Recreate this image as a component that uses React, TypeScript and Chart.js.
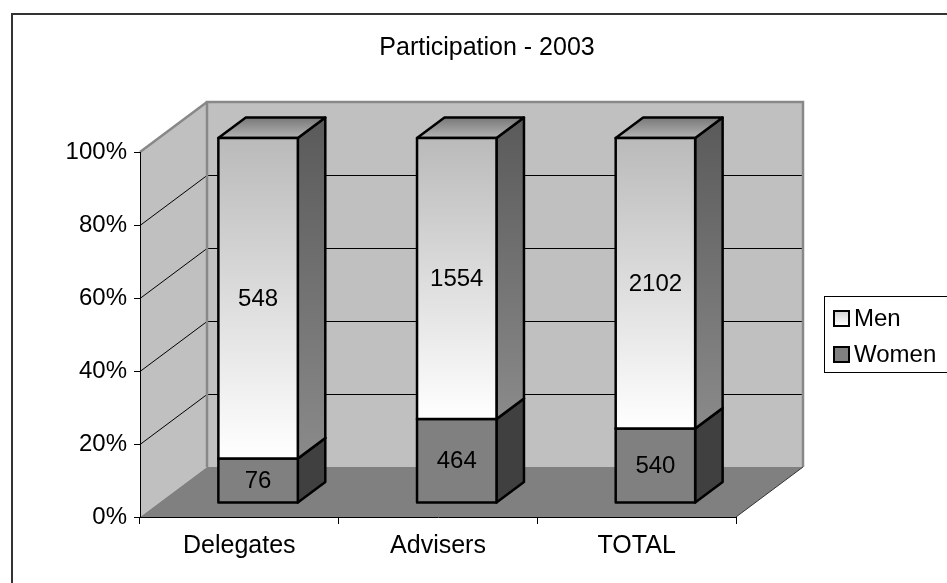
import React, { useEffect, useRef } from "react";
import { Chart, registerables } from "chart.js";

Chart.register(...registerables);

const title = "Participation - 2003";
const categories = ["Delegates", "Advisers", "TOTAL"];
const women = [76, 464, 540];
const men = [548, 1554, 2102];
const yTickStep = 20;

const FONT = "'Liberation Sans', Arial, sans-serif";

// 3D geometry (styles)
const DEPTH_X = 67;
const DEPTH_Y = -50;
const BAR_FRONT = 0.28;
const BAR_DEPTH = 0.41;

const womenPct = women.map((w, i) => (w / (w + men[i])) * 100);
const menPct = men.map((m, i) => (m / (women[i] + m)) * 100);

const threeD = {
  id: "threeD",
  beforeDraw(chart: any) {
    const ctx = chart.ctx;
    const { left: L, right: R, top: T, bottom: B } = chart.chartArea;
    const ys = chart.scales.y;
    ctx.save();
    // outer frame
    ctx.strokeStyle = "#333333";
    ctx.lineWidth = 2;
    ctx.strokeRect(12, 14, 1000, 1000);
    // side wall
    ctx.fillStyle = "#c0c0c0";
    ctx.beginPath();
    ctx.moveTo(L, T);
    ctx.lineTo(L + DEPTH_X, T + DEPTH_Y);
    ctx.lineTo(L + DEPTH_X, B + DEPTH_Y);
    ctx.lineTo(L, B);
    ctx.closePath();
    ctx.fill();
    // back wall
    ctx.fillRect(L + DEPTH_X, T + DEPTH_Y, R - L, B - T);
    // floor
    ctx.fillStyle = "#808080";
    ctx.beginPath();
    ctx.moveTo(L, B);
    ctx.lineTo(R, B);
    ctx.lineTo(R + DEPTH_X, B + DEPTH_Y);
    ctx.lineTo(L + DEPTH_X, B + DEPTH_Y);
    ctx.closePath();
    ctx.fill();
    // gridlines
    ctx.strokeStyle = "#000000";
    ctx.lineWidth = 1;
    for (let v = yTickStep; v < 100; v += yTickStep) {
      const y = Math.round(ys.getPixelForValue(v)) + 0.5;
      ctx.beginPath();
      ctx.moveTo(L, y);
      ctx.lineTo(L + DEPTH_X, y + DEPTH_Y);
      ctx.lineTo(R + DEPTH_X, y + DEPTH_Y);
      ctx.stroke();
    }
    // wall borders
    ctx.strokeStyle = "#888888";
    ctx.lineWidth = 2.5;
    ctx.beginPath();
    ctx.moveTo(L + DEPTH_X, B + DEPTH_Y);
    ctx.lineTo(L + DEPTH_X, T + DEPTH_Y);
    ctx.lineTo(R + DEPTH_X, T + DEPTH_Y);
    ctx.lineTo(R + DEPTH_X, B + DEPTH_Y);
    ctx.stroke();
    ctx.beginPath();
    ctx.moveTo(L, T);
    ctx.lineTo(L + DEPTH_X, T + DEPTH_Y);
    ctx.stroke();
    ctx.strokeStyle = "#333333";
    ctx.lineWidth = 1;
    ctx.beginPath();
    ctx.moveTo(R, B);
    ctx.lineTo(R + DEPTH_X, B + DEPTH_Y);
    ctx.stroke();
    // title
    ctx.fillStyle = "#000";
    ctx.font = `25px ${FONT}`;
    ctx.textAlign = "center";
    ctx.textBaseline = "middle";
    ctx.fillText(title, 487, 48);
    ctx.restore();
  },
  afterDatasetsDraw(chart: any) {
    const ctx = chart.ctx;
    const fx = DEPTH_X * BAR_FRONT;
    const fy = DEPTH_Y * BAR_FRONT;
    const dx = DEPTH_X * BAR_DEPTH;
    const dy = DEPTH_Y * BAR_DEPTH;
    ctx.save();
    ctx.lineJoin = "round";
    const n = chart.data.labels.length;
    for (let i = 0; i < n; i++) {
      chart.data.datasets.forEach((ds: any, di: number) => {
        const el = chart.getDatasetMeta(di).data[i];
        const x0 = el.x - el.width / 2 + fx;
        const x1 = el.x + el.width / 2 + fx;
        const yT = el.y + fy;
        const yB = el.base + fy;
        const isMen = ds.label === "Men";
        ctx.lineWidth = 2.5;
        ctx.strokeStyle = "#000";
        // side
        let g: any;
        if (isMen) {
          g = ctx.createLinearGradient(0, yT + dy, 0, yB);
          g.addColorStop(0, "#5a5a5a");
          g.addColorStop(1, "#8a8a8a");
        } else g = "#404040";
        ctx.fillStyle = g;
        ctx.beginPath();
        ctx.moveTo(x1, yT);
        ctx.lineTo(x1 + dx, yT + dy);
        ctx.lineTo(x1 + dx, yB + dy);
        ctx.lineTo(x1, yB);
        ctx.closePath();
        ctx.fill();
        ctx.stroke();
        // top
        if (isMen) {
          g = ctx.createLinearGradient(0, yT + dy, 0, yT);
          g.addColorStop(0, "#787878");
          g.addColorStop(1, "#b4b4b4");
        } else g = "#808080";
        ctx.fillStyle = g;
        ctx.beginPath();
        ctx.moveTo(x0, yT);
        ctx.lineTo(x1, yT);
        ctx.lineTo(x1 + dx, yT + dy);
        ctx.lineTo(x0 + dx, yT + dy);
        ctx.closePath();
        ctx.fill();
        ctx.stroke();
        // front
        if (isMen) {
          g = ctx.createLinearGradient(0, yT, 0, yB);
          g.addColorStop(0, "#bababa");
          g.addColorStop(1, "#ffffff");
        } else g = "#808080";
        ctx.fillStyle = g;
        ctx.fillRect(x0, yT, x1 - x0, yB - yT);
        ctx.strokeRect(x0, yT, x1 - x0, yB - yT);
        // label
        ctx.fillStyle = "#000";
        ctx.font = `24px ${FONT}`;
        ctx.textAlign = "center";
        ctx.textBaseline = "middle";
        ctx.fillText(String(ds.raw[i]), (x0 + x1) / 2, (yT + yB) / 2 + 1);
      });
    }
    ctx.restore();
  },
  afterDraw(chart: any) {
    const ctx = chart.ctx;
    ctx.save();
    // legend box
    ctx.strokeStyle = "#000";
    ctx.lineWidth = 1;
    ctx.strokeRect(824.5, 296.5, 300, 76);
    const items = [...chart.data.datasets].reverse();
    items.forEach((ds: any, k: number) => {
      const cy = 318 + k * 36;
      let g: any;
      if (ds.label === "Men") {
        g = ctx.createLinearGradient(0, cy - 7, 0, cy + 7);
        g.addColorStop(0, "#d0d0d0");
        g.addColorStop(1, "#ffffff");
      } else g = "#808080";
      ctx.fillStyle = g;
      ctx.fillRect(834, cy - 7, 15, 15);
      ctx.lineWidth = 2;
      ctx.strokeRect(834, cy - 7, 15, 15);
      ctx.fillStyle = "#000";
      ctx.font = `24px ${FONT}`;
      ctx.textAlign = "left";
      ctx.textBaseline = "middle";
      ctx.fillText(ds.label, 854, cy + 1);
    });
    ctx.restore();
  },
};

export default function App() {
  const ref = useRef<HTMLCanvasElement | null>(null);
  useEffect(() => {
    if (!ref.current) return;
    const font = { family: FONT, size: 24 };
    const chart = new Chart(ref.current, {
      type: "bar",
      data: {
        labels: categories,
        datasets: [
          {
            label: "Women",
            data: womenPct,
            raw: women,
            backgroundColor: "rgba(0,0,0,0)",
            borderWidth: 0,
            categoryPercentage: 1,
            barPercentage: 0.4,
          } as any,
          {
            label: "Men",
            data: menPct,
            raw: men,
            backgroundColor: "rgba(0,0,0,0)",
            borderWidth: 0,
            categoryPercentage: 1,
            barPercentage: 0.4,
          } as any,
        ],
      },
      options: {
        responsive: false,
        animation: false,
        events: [],
        layout: { padding: { top: 152, right: 211, left: 0, bottom: 0 } },
        plugins: {
          legend: { display: false },
          title: { display: false },
          tooltip: { enabled: false },
        },
        scales: {
          x: {
            stacked: true,
            grid: {
              display: true,
              drawOnChartArea: false,
              drawTicks: true,
              tickLength: 7,
              color: "#000",
              offset: true,
            },
            border: { display: true, color: "#000", width: 1 },
            ticks: { font: { family: FONT, size: 25 }, color: "#000", padding: 7 },
            afterFit: (s: any) => {
              s.height = 66;
            },
          },
          y: {
            stacked: true,
            min: 0,
            max: 100,
            grid: {
              display: true,
              drawOnChartArea: false,
              drawTicks: true,
              tickLength: 6,
              color: "#000",
            },
            border: { display: true, color: "#000", width: 1 },
            ticks: {
              stepSize: yTickStep,
              font,
              color: "#000",
              padding: 7,
              callback: (v: any) => v + "%",
            },
            afterFit: (s: any) => {
              s.width = 140;
            },
          },
        },
      } as any,
      plugins: [threeD],
    });
    return () => chart.destroy();
  }, []);
  return (
    <div style={{ position: "absolute", left: 0, top: 0, width: 947, height: 583, background: "#fff" }}>
      <canvas ref={ref} width={947} height={583} style={{ display: "block" }} />
    </div>
  );
}
